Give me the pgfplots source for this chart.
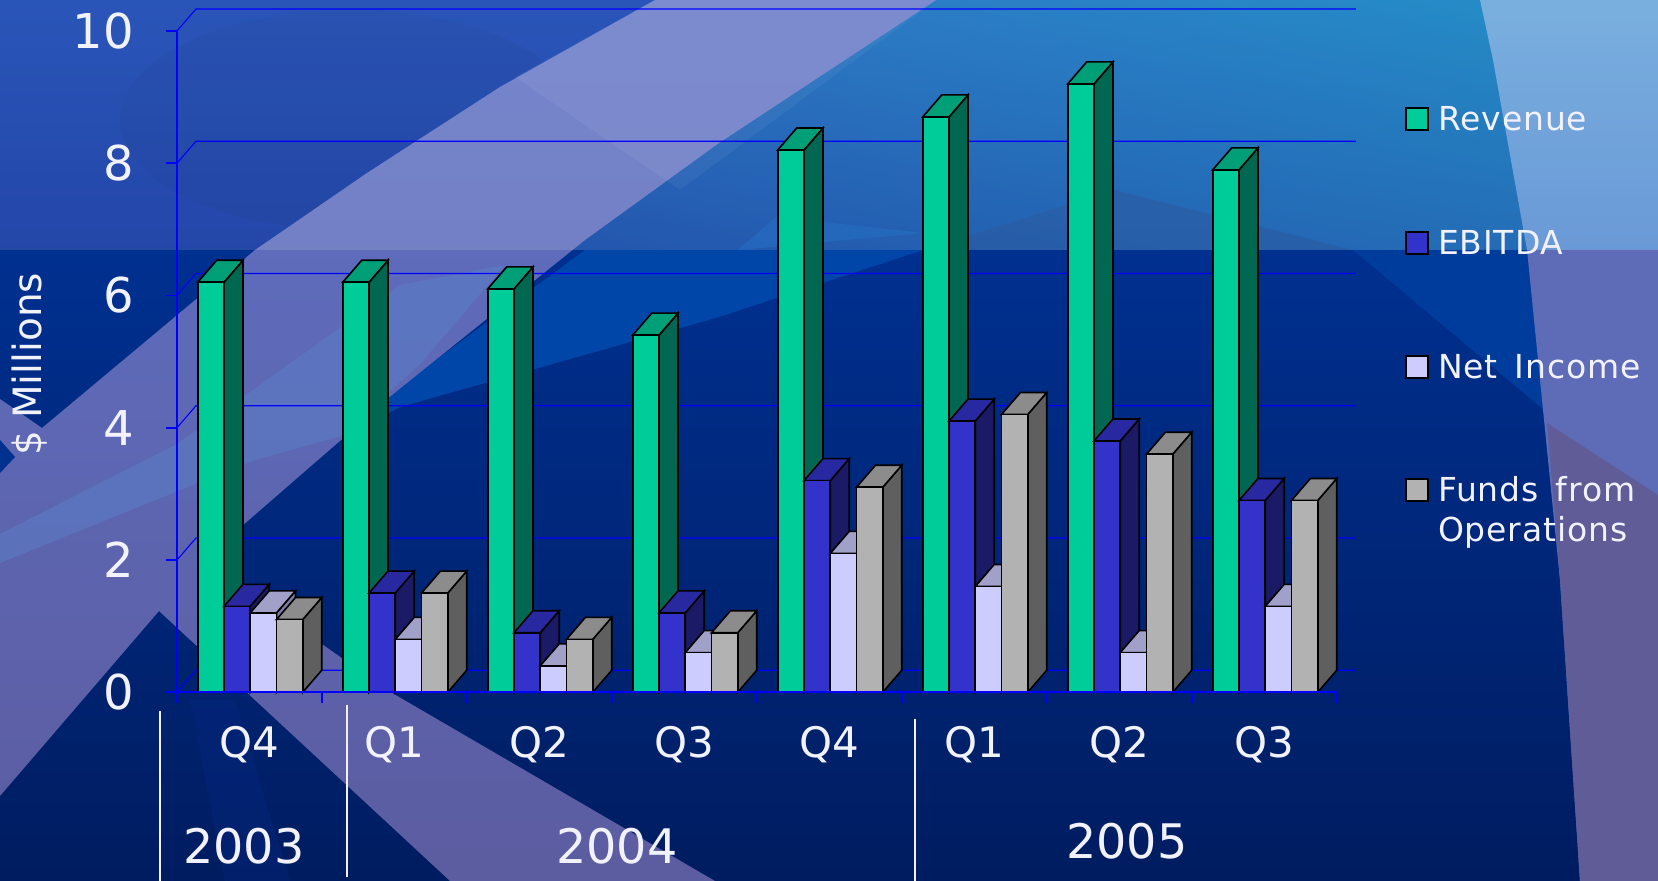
\documentclass[border=0pt]{standalone}
\usepackage{pgfplots}
\usepackage{pgfplotstable}
\usepackage{fontspec}
\usetikzlibrary{shadings}
\pgfplotsset{compat=1.18}
\setmainfont{DejaVu Sans}
\newfontfamily\keyfont{DejaVu Sans}[LetterSpace=2.8,WordSpace=1.5]
\definecolor{txt}{HTML}{F2F2FF}
\definecolor{wall}{HTML}{0000FF}
\definecolor{revF}{HTML}{00CC99}\definecolor{revT}{HTML}{009F78}\definecolor{revS}{HTML}{006850}
\definecolor{ebiF}{HTML}{3333CC}\definecolor{ebiT}{HTML}{2828A0}\definecolor{ebiS}{HTML}{1A1A66}
\definecolor{netF}{HTML}{CCCCFF}\definecolor{netT}{HTML}{A0A0C8}\definecolor{netS}{HTML}{7C7CA8}
\definecolor{ffoF}{HTML}{B2B2B2}\definecolor{ffoT}{HTML}{8C8C8C}\definecolor{ffoS}{HTML}{5F5F5F}
% backdrop colours
\definecolor{bgA}{HTML}{073AAD}\definecolor{bgB}{HTML}{00289C}
\definecolor{bgC}{HTML}{003090}\definecolor{bgD}{HTML}{001C60}
\definecolor{tealLL}{HTML}{00369F}\definecolor{tealUL}{HTML}{0E59BA}
\definecolor{tealUR}{HTML}{007EBF}\definecolor{tealLR}{HTML}{0059AC}
\definecolor{midb}{HTML}{0046A8}\definecolor{midr}{HTML}{003C9C}
\definecolor{bandc}{HTML}{5F72C6}\definecolor{bandd}{HTML}{5C5CA0}\definecolor{tint}{HTML}{5B80C8}
\definecolor{rsA}{HTML}{64A3DA}\definecolor{rsB}{HTML}{5289D1}\definecolor{rsC}{HTML}{5E6CB8}\definecolor{rsD}{HTML}{605C98}
\definecolor{haze}{HTML}{093F8E}\definecolor{wedge}{HTML}{0258BA}\definecolor{streak}{HTML}{0A2A90}

% quarterly results, $ millions
\pgfplotstableread{
Revenue EBITDA NetIncome Funds
6.2 1.3 1.2 1.1
6.2 1.5 0.8 1.5
6.1 0.9 0.4 0.8
5.4 1.2 0.6 0.9
8.2 3.2 2.1 3.1
8.7 4.1 1.6 4.2
9.2 3.8 0.6 3.6
7.9 2.9 1.3 2.9
}\results

\newcommand\barw{0.181}
\newcommand\depx{0.131}
\newcommand\depy{0.333}

% one box of the clustered chart: category, slot in the cluster, value, colour prefix
\newcommand\boxbar[4]{%
  \pgfmathsetmacro\xa{#1+0.143+#2*\barw}%
  \pgfmathsetmacro\xb{\xa+\barw}%
  \pgfmathsetmacro\xc{\xb+\depx}%
  \pgfmathsetmacro\xd{\xa+\depx}%
  \pgfmathsetmacro\yt{#3+\depy}%
  \edef\doit{%
    \noexpand\addplot[fill=#4S,draw=black,line width=0.8pt,forget plot] coordinates {(\xb,0) (\xc,\depy) (\xc,\yt) (\xb,#3)} -- cycle;
    \noexpand\addplot[fill=#4T,draw=black,line width=0.8pt,forget plot] coordinates {(\xa,#3) (\xb,#3) (\xc,\yt) (\xd,\yt)} -- cycle;
    \noexpand\addplot[fill=#4F,draw=black,line width=0.8pt,forget plot] coordinates {(\xa,0) (\xb,0) (\xb,#3) (\xa,#3)} -- cycle;
  }\doit}
% a whole cluster read from the table
\newcommand\cluster[1]{%
  \pgfplotstablegetelem{#1}{Revenue}\of{\results}\let\va\pgfplotsretval
  \pgfplotstablegetelem{#1}{EBITDA}\of{\results}\let\vb\pgfplotsretval
  \pgfplotstablegetelem{#1}{NetIncome}\of{\results}\let\vc\pgfplotsretval
  \pgfplotstablegetelem{#1}{Funds}\of{\results}\let\vd\pgfplotsretval
  \boxbar{#1}{0}{\va}{rev}\boxbar{#1}{1}{\vb}{ebi}\boxbar{#1}{2}{\vc}{net}\boxbar{#1}{3}{\vd}{ffo}}
% back wall and left wall rule at one height
\newcommand\wallrule[1]{%
  \pgfmathsetmacro\yb{#1+\depy}%
  \edef\doit{\noexpand\addplot[wall,line width=0.55pt,forget plot] coordinates {(0,#1) (\depx,\yb) (8.131,\yb)};}\doit}

\begin{document}
\begin{tikzpicture}
\path[use as bounding box] (0,0) rectangle (829pt,440.5pt);
\clip (0,0) rectangle (829pt,440.5pt);

\begin{scope}[x=0.5pt,y=-0.5pt,yshift=440.5pt]
  % backdrop
  \shade[top color=bgA,bottom color=bgB] (0,0) rectangle (1658,250);
  \shade[top color=bgC,bottom color=bgD] (0,250) rectangle (1658,881);
  \fill[black,opacity=0.04] (350,120) ellipse (230 and 110);
  \fill[streak,opacity=0.25] (190,700) -- (235,700) -- (290,881) -- (225,881) -- cycle;
  \shade[lower left=tealLL,upper left=tealUL,upper right=tealUR,lower right=tealLR]
    (660,0) -- (1658,0) -- (1658,250) -- (400,250) -- (500,100) -- cycle;
  \fill[haze,opacity=0.5] (923,250) -- (1114,190) -- (1353,250) -- cycle;
  \fill[wedge,opacity=0.6] (776,217) -- (923,233) -- (738,250) -- cycle;
  \fill[midb] (585,250) -- (923,250) -- (719,317) -- (400,407) -- (300,460) -- cycle;
  \fill[midr] (1353,250) -- (1527,250) -- (1550,415) -- cycle;
  % sweeping band, from the lower left up to the top edge and back down to the right
  \shade[top color=bandc,middle color=bandc,bottom color=bandd]
    (0,399) -- (42,428) -- (255,250) -- (367,173) -- (500,87) -- (655,0) -- (936,0)
    -- (719,143) -- (585,240) -- (387,399) -- (341,440) -- (242,526) -- (210,565)
    -- (387,690) -- (715,881) -- (450,881) -- (159,611) -- (0,796) -- cycle;
  \fill[bgC] (0,440) -- (15,457) -- (0,473) -- cycle;
  \fill[tint,opacity=0.5] (0,534) -- (177,444) -- (400,285) -- (505,265) -- (421,363)
    -- (341,436) -- (252,461) -- (0,563) -- cycle;
  \fill[white,opacity=0.05] (515,77) -- (655,0) -- (936,0) -- (680,190) -- cycle;
  % sweep along the right edge
  \shade[top color=rsA,bottom color=rsB] (1480,0) -- (1658,0) -- (1658,250) -- (1527,250) -- (1493,60) -- cycle;
  \fill[rsC] (1527,250) -- (1658,250) -- (1658,881) -- (1580,881) -- (1560,580) -- cycle;
  \fill[rsD] (1547,423) -- (1658,495) -- (1658,881) -- (1580,881) -- (1560,580) -- cycle;
  % the upper part of the backdrop is one step lighter
  \fill[white,opacity=0.14] (0,0) rectangle (1658,250);
\end{scope}

\begin{axis}[
  at={(88.5pt,94.35pt)},anchor=south west,
  scale only axis,width=580pt,height=330.65pt,
  xmin=0,xmax=8,ymin=0,ymax=10,
  clip=false,axis on top,
  axis x line*=bottom,axis y line*=left,
  axis line style={wall,line width=0.8pt,-},
  x axis line style={line width=1.1pt},
  tick style={wall,line width=0.8pt},
  tick align=outside,
  major tick length=5.5pt,
  /pgf/number format/assume math mode=true,
  ytick={0,2,4,6,8,10},
  xtick={0,1,...,8},
  xticklabels={},
  extra x ticks={0.5,1.5,...,7.5},
  extra x tick labels={Q4,Q1,Q2,Q3,Q4,Q1,Q2,Q3},
  extra x tick style={major tick length=0pt},
  y tick label style={font=\fontsize{24pt}{28pt}\selectfont,color=txt,xshift=-12.5pt},
  x tick label style={font=\fontsize{21pt}{24pt}\selectfont,color=txt,anchor=base,yshift=-32.5pt},
  ylabel={\$ Millions},
  y label style={at={(axis description cs:-0.1267,0.496)},anchor=center,font=\fontsize{19.5pt}{22pt}\selectfont,color=txt},
  legend style={at={(rel axis cs:1.0,0.887)},anchor=north west,xshift=34pt,draw=none,fill=none,
    font=\keyfont\fontsize{16.5pt}{20pt}\selectfont,text=txt,row sep=48.5pt,inner sep=0pt,
    /tikz/column 1/.style={column sep=4.5pt},nodes={inner sep=0pt,anchor=base west}},
  legend image code/.code={\draw[#1,draw=black,line width=0.8pt] (0pt,0pt) rectangle (11pt,11pt);},
  legend cell align=left,
]
  % walls
  \wallrule{0}\wallrule{2}\wallrule{4}\wallrule{6}\wallrule{8}\wallrule{10}
  % bars, painted left to right
  \cluster{0}\cluster{1}\cluster{2}\cluster{3}\cluster{4}\cluster{5}\cluster{6}\cluster{7}
  \addlegendimage{fill=revF}\addlegendentry{Revenue}
  \addlegendimage{fill=ebiF}\addlegendentry{EBITDA}
  \addlegendimage{fill=netF}\addlegendentry{Net Income}
  \addlegendimage{fill=ffoF}\addlegendentry{\smash{\begin{tabular}[t]{@{}l@{}}Funds from\\Operations\end{tabular}}}
\end{axis}

\begin{scope}[x=0.5pt,y=-0.5pt,yshift=440.5pt]
  % year brackets under the quarters
  \draw[txt,line width=1.1pt] (160,711) -- (160,881);
  \draw[txt,line width=1.1pt] (346.7,705) -- (346.7,877);
  \draw[txt,line width=1.1pt] (914.6,719) -- (914.6,881);
  \node[txt,font=\fontsize{23.8pt}{26pt}\selectfont,inner sep=0pt] at (244,846) {2003};
  \node[txt,font=\fontsize{23.8pt}{26pt}\selectfont,inner sep=0pt] at (617,846) {2004};
  \node[txt,font=\fontsize{23.8pt}{26pt}\selectfont,inner sep=0pt] at (1127,841) {2005};
\end{scope}
\end{tikzpicture}
\end{document}
